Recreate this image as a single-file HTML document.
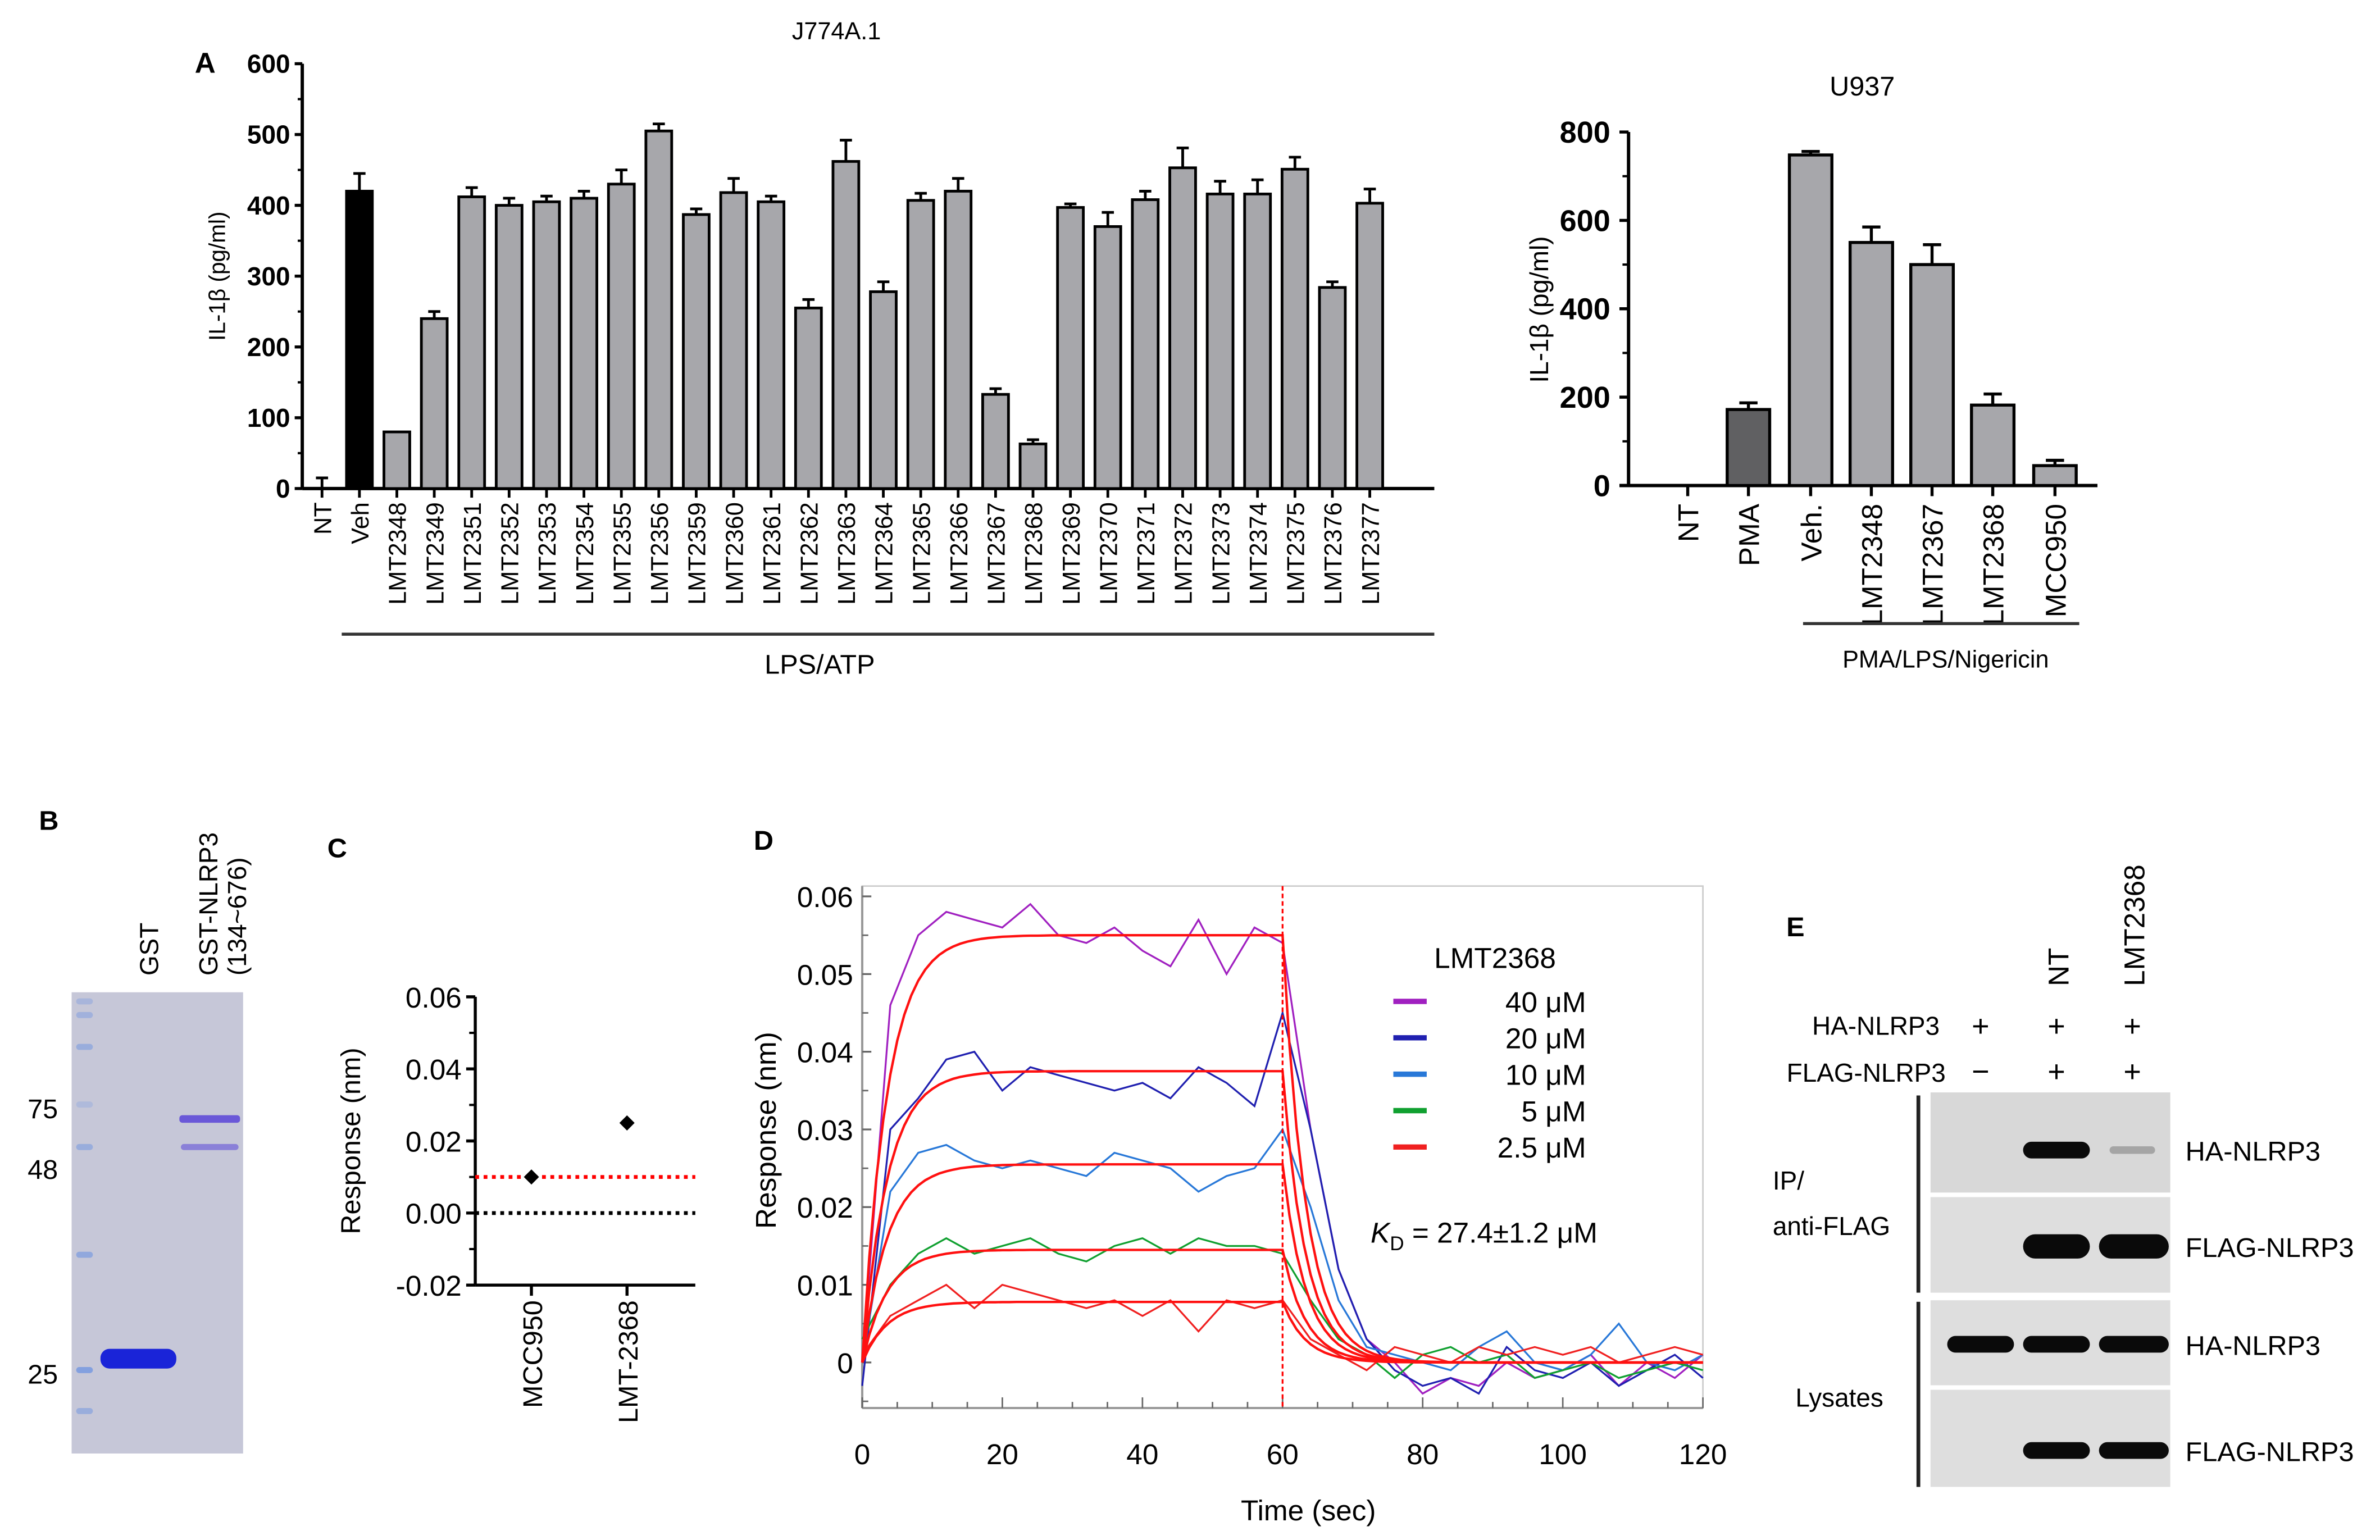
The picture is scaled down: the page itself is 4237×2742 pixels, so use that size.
<!DOCTYPE html>
<html><head><meta charset="utf-8">
<style>
html,body{margin:0;padding:0;background:#fff;}
svg{display:block;font-family:"Liberation Sans",Arial,sans-serif;}
</style></head>
<body>
<svg id="fig" width="4237" height="2742" viewBox="0 0 1568 1015" xmlns="http://www.w3.org/2000/svg">
<g id="gA"></g>
<g id="gU"></g>
<g id="gB"></g>
<g id="gC"></g>
<g id="gD"></g>
<g id="gE"></g>
</svg>
<script>
// ---------- Panel A J774A.1 data ----------
const aCats = ["NT","Veh","LMT2348","LMT2349","LMT2351","LMT2352","LMT2353","LMT2354","LMT2355","LMT2356","LMT2359","LMT2360","LMT2361","LMT2362","LMT2363","LMT2364","LMT2365","LMT2366","LMT2367","LMT2368","LMT2369","LMT2370","LMT2371","LMT2372","LMT2373","LMT2374","LMT2375","LMT2376","LMT2377"];
const aVals = [0,420,80,240,412,400,405,410,430,505,387,418,405,255,462,278,407,420,133,63,397,370,408,453,416,416,451,284,403];
const aErrs = [15,25,0,10,13,10,8,10,20,10,8,20,8,12,30,14,10,18,8,6,5,20,12,28,18,20,17,8,20];
const aTicks = [0,100,200,300,400,500,600];
// ---------- Panel A U937 data ----------
const uCats = ["NT","PMA","Veh.","LMT2348","LMT2367","LMT2368","MCC950"];
const uVals = [0,172,748,550,500,182,45];
const uErrs = [0,15,8,35,45,25,12];
const uTicks = [0,200,400,600,800];
// ---------- Panel C data ----------
const cCats = ["MCC950","LMT-2368"];
const cVals = [0.010,0.025];
const cTicks = [-0.02,0.00,0.02,0.04,0.06];
const cRefRed = 0.01;
const cRefBlack = 0.0;
// ---------- Panel D data ----------
const dTime = [0,4,8,12,16,20,24,28,32,36,40,44,48,52,56,60,64,68,72,76,80,84,88,92,96,100,104,108,112,116,120];
const d40 = [0,0.046,0.055,0.058,0.057,0.056,0.059,0.055,0.054,0.056,0.053,0.051,0.057,0.050,0.056,0.054,0.030,0.012,0.003,0.000,-0.004,-0.002,-0.003,0.000,-0.002,-0.001,0.001,-0.003,0.000,-0.002,0.001];
const d20 = [-0.003,0.030,0.034,0.039,0.040,0.035,0.038,0.037,0.036,0.035,0.036,0.034,0.038,0.036,0.033,0.045,0.030,0.012,0.003,-0.001,-0.003,-0.002,-0.004,0.002,-0.001,-0.002,0.000,-0.003,-0.001,0.001,-0.002];
const d10 = [0,0.022,0.027,0.028,0.026,0.025,0.026,0.025,0.024,0.027,0.026,0.025,0.022,0.024,0.025,0.030,0.020,0.008,0.002,0.001,0.000,-0.001,0.002,0.004,0.000,-0.001,0.001,0.005,0.000,-0.001,0.001];
const d5 = [0.003,0.010,0.014,0.016,0.014,0.015,0.016,0.014,0.013,0.015,0.016,0.014,0.016,0.015,0.015,0.014,0.008,0.003,0.001,-0.002,0.001,0.002,0.000,0.001,-0.002,-0.001,0.000,-0.002,-0.001,0.000,-0.001];
const d25 = [0.001,0.006,0.008,0.010,0.007,0.010,0.009,0.008,0.007,0.008,0.006,0.008,0.004,0.008,0.007,0.008,0.003,0.001,-0.001,0.002,0.001,0.000,0.002,0.001,0.002,0.001,0.002,0.000,0.001,0.002,0.001];
const dPlateaus = [0.055,0.0375,0.0255,0.0145,0.0078];
const dLabels = ["40 μM","20 μM","10 μM","5 μM","2.5 μM"];
const dXTicks = [0,20,40,60,80,100,120];
const dYTicks = [0,0.01,0.02,0.03,0.04,0.05,0.06];

const NS="http://www.w3.org/2000/svg";
function mk(parent,tag,attrs,text){const e=document.createElementNS(NS,tag);for(const k in attrs)e.setAttribute(k,attrs[k]);if(text!==undefined)e.textContent=text;parent.appendChild(e);return e;}

// ===== Panel A left =====
(function(){
const g=document.getElementById('gA');
const x0=199,xEnd=945,yZero=322,yTop=42;
const y=v=>yZero-(v/600)*(yZero-yTop);
const xc=i=>212+i*24.66;
let t;
t=mk(g,'text',{x:135,y:48,'font-size':19,'font-weight':'bold','text-anchor':'middle'},'A');

t=mk(g,'text',{x:551,y:26,'font-size':16,'text-anchor':'middle'},'J774A.1');

t=mk(g,'text',{transform:'translate(148,182) rotate(-90)','font-size':15,'text-anchor':'middle'},'IL-1β (pg/ml)');

let ax=mk(g,'line',{x1:x0,y1:yTop,x2:x0,y2:yZero,stroke:'#000','stroke-width':2.2});

ax=mk(g,'line',{x1:x0,y1:yZero,x2:xEnd,y2:yZero,stroke:'#000','stroke-width':2.2});

aTicks.forEach(v=>{
 const tk=mk(g,'line',{x1:x0-5,y1:y(v),x2:x0,y2:y(v),stroke:'#000','stroke-width':2});
 
 const mt=mk(g,'line',{x1:x0-3,y1:y(v+50),x2:x0,y2:y(v+50),stroke:'#000','stroke-width':1.5});
 if(v===600)mt.remove(); else {}
 const lb=mk(g,'text',{x:x0-8,y:y(v)+6,'font-size':17,'font-weight':'bold','text-anchor':'end'},String(v));
 
});
aCats.forEach((c,i)=>{
 const cx=xc(i),v=aVals[i],w=17;
 if(v>0){
  const r=mk(g,'rect',{x:cx-w/2,y:y(v),width:w,height:yZero-y(v),fill:i===1?'#000':'#a7a7ab',stroke:'#000','stroke-width':1.8});
  
 }
 if(aErrs[i]>0){
  const e=mk(g,'path',{d:`M${cx},${y(v)} V${y(v+aErrs[i])} M${cx-4},${y(v+aErrs[i])} H${cx+4}`,stroke:'#000','stroke-width':1.8,fill:'none'});
  
 }
 const tk=mk(g,'line',{x1:cx,y1:yZero,x2:cx,y2:yZero+6,stroke:'#000','stroke-width':1.8});
 
 const lb=mk(g,'text',{transform:`translate(${cx+6},${yZero+9}) rotate(-90)`,'font-size':16,'text-anchor':'end'},c);
 
});
const br=mk(g,'line',{x1:225,y1:418,x2:945,y2:418,stroke:'#333','stroke-width':2});

t=mk(g,'text',{x:540,y:444,'font-size':18,'text-anchor':'middle'},'LPS/ATP');

})();

// ===== Panel A right U937 =====
(function(){
const g=document.getElementById('gU');
const x0=1073,xEnd=1382,yZero=320,yTop=87;
const y=v=>yZero-(v/800)*(yZero-yTop);
const xs=[1112,1152,1193,1233,1273,1313,1354];
let t=mk(g,'text',{x:1227,y:63,'font-size':18,'text-anchor':'middle'},'U937');

t=mk(g,'text',{transform:'translate(1020,204) rotate(-90)','font-size':17,'text-anchor':'middle'},'IL-1β (pg/ml)');

let ax=mk(g,'line',{x1:x0,y1:yTop,x2:x0,y2:yZero,stroke:'#000','stroke-width':2.2});

ax=mk(g,'line',{x1:x0-6,y1:yZero,x2:xEnd,y2:yZero,stroke:'#000','stroke-width':2.2});

uTicks.forEach(v=>{
 const tk=mk(g,'line',{x1:x0-6,y1:y(v),x2:x0,y2:y(v),stroke:'#000','stroke-width':2});
 
 if(v<800){const mt=mk(g,'line',{x1:x0-4,y1:y(v+100),x2:x0,y2:y(v+100),stroke:'#000','stroke-width':1.5});
 }
 const lb=mk(g,'text',{x:x0-12,y:y(v)+7,'font-size':20,'font-weight':'bold','text-anchor':'end'},String(v));
 
});
uCats.forEach((c,i)=>{
 const cx=xs[i],v=uVals[i],w=28;
 if(v>0){
  const r=mk(g,'rect',{x:cx-w/2,y:y(v),width:w,height:yZero-y(v),fill:i===1?'#606062':'#a7a7ab',stroke:'#000','stroke-width':2});
  
 }
 if(uErrs[i]>0){
  const e=mk(g,'path',{d:`M${cx},${y(v)} V${y(v+uErrs[i])} M${cx-6},${y(v+uErrs[i])} H${cx+6}`,stroke:'#000','stroke-width':2,fill:'none'});
  
 }
 const tk=mk(g,'line',{x1:cx,y1:yZero,x2:cx,y2:yZero+7,stroke:'#000','stroke-width':2});
 
 const lb=mk(g,'text',{transform:`translate(${cx+7},${yZero+12}) rotate(-90)`,'font-size':19,'text-anchor':'end'},c);
 
});
const br=mk(g,'line',{x1:1188,y1:411,x2:1370,y2:411,stroke:'#333','stroke-width':2});

t=mk(g,'text',{x:1282,y:440,'font-size':16,'text-anchor':'middle'},'PMA/LPS/Nigericin');

})();

// ===== Panel B gel =====
(function(){
const g=document.getElementById('gB');
let t=mk(g,'text',{x:32,y:547,'font-size':18,'font-weight':'bold','text-anchor':'middle'},'B');

t=mk(g,'text',{transform:'translate(104,643) rotate(-90)','font-size':17,'text-anchor':'start'},'GST');

t=mk(g,'text',{transform:'translate(143,643) rotate(-90)','font-size':17,'text-anchor':'start'},'GST-NLRP3');

t=mk(g,'text',{transform:'translate(162,643) rotate(-90)','font-size':17,'text-anchor':'start'},'(134~676)');

const r=mk(g,'rect',{x:47,y:654,width:113,height:304,fill:'#c6c7d8'});

[[660,0.4],[669,0.5],[690,0.6],[728,0.3],[756,0.6],[827,0.7],[903,0.9],[930,0.6]].forEach(b=>{
 const l=mk(g,'rect',{x:50,y:b[0]-2,width:11,height:4,rx:2,fill:'#7b9be0','fill-opacity':b[1]});
 
});
let b=mk(g,'rect',{x:66,y:889,width:50,height:13,rx:6,fill:'#1a24d8'});

b=mk(g,'rect',{x:118,y:735,width:40,height:5,rx:2,fill:'#6a58d8'});

b=mk(g,'rect',{x:119,y:754,width:38,height:4,rx:2,fill:'#8a80d8'});

[['75',737],['48',777],['25',912]].forEach(m=>{
 const l=mk(g,'text',{x:28,y:m[1],'font-size':18,'text-anchor':'middle'},m[0]);
 
});
})();

// ===== Panel C =====
(function(){
const g=document.getElementById('gC');
const x0=313,xEnd=458,yb=847,yt=657;
const y=v=>yb-((v+0.02)/0.08)*(yb-yt);
const xs=[350,413];
let t=mk(g,'text',{x:222,y:565,'font-size':18,'font-weight':'bold','text-anchor':'middle'},'C');

t=mk(g,'text',{transform:'translate(237,752) rotate(-90)','font-size':18,'text-anchor':'middle'},'Response (nm)');

let ax=mk(g,'line',{x1:x0,y1:yt,x2:x0,y2:yb,stroke:'#000','stroke-width':2});

ax=mk(g,'line',{x1:x0,y1:yb,x2:xEnd,y2:yb,stroke:'#000','stroke-width':2});

cTicks.forEach(v=>{
 const tk=mk(g,'line',{x1:x0-6,y1:y(v),x2:x0,y2:y(v),stroke:'#000','stroke-width':2});
 
 if(v<0.06){const mt=mk(g,'line',{x1:x0-4,y1:y(v+0.01),x2:x0,y2:y(v+0.01),stroke:'#000','stroke-width':1.5});
 }
 const lb=mk(g,'text',{x:x0-9,y:y(v)+7,'font-size':19,'text-anchor':'end'},v.toFixed(2));
 
});
let l=mk(g,'line',{x1:x0,y1:y(cRefRed),x2:xEnd,y2:y(cRefRed),stroke:'#f00','stroke-width':2.5,'stroke-dasharray':'2.5 3'});

l=mk(g,'line',{x1:x0,y1:y(cRefBlack),x2:xEnd,y2:y(cRefBlack),stroke:'#000','stroke-width':2.5,'stroke-dasharray':'2.5 3'});

cCats.forEach((c,i)=>{
 const cx=xs[i],cy=y(cVals[i]);
 const p=mk(g,'path',{d:`M${cx},${cy-5} L${cx+5},${cy} L${cx},${cy+5} L${cx-5},${cy} Z`,fill:'#000'});
 
 const tk=mk(g,'line',{x1:cx,y1:yb,x2:cx,y2:yb+7,stroke:'#000','stroke-width':2});
 
 const lb=mk(g,'text',{transform:`translate(${cx+7},${yb+10}) rotate(-90)`,'font-size':18,'text-anchor':'end'},c);
 
});
})();

// ===== Panel D =====
(function(){
const g=document.getElementById('gD');
const xL=568,xR=1122,yTop=584,yBot=928;
const x=tt=>xL+tt/120*(xR-xL);
const y=v=>898-v/0.01*51.2;
let t=mk(g,'text',{x:503,y:560,'font-size':18,'font-weight':'bold','text-anchor':'middle'},'D');

const box=mk(g,'rect',{x:xL,y:yTop,width:xR-xL,height:yBot-yTop,fill:'none',stroke:'#ccc','stroke-width':1});

let ax=mk(g,'line',{x1:xL,y1:yTop,x2:xL,y2:yBot,stroke:'#999','stroke-width':1.5});

ax=mk(g,'line',{x1:xL,y1:yBot,x2:xR,y2:yBot,stroke:'#999','stroke-width':1.5});

dYTicks.forEach(v=>{
 const tk=mk(g,'line',{x1:xL,y1:y(v),x2:xL+6,y2:y(v),stroke:'#666','stroke-width':1.2});
 
 const mt=mk(g,'line',{x1:xL,y1:y(v-0.005),x2:xL+4,y2:y(v-0.005),stroke:'#666','stroke-width':1});
 
 const lb=mk(g,'text',{x:xL-6,y:y(v)+7,'font-size':19,'text-anchor':'end'},v===0?'0':v.toFixed(2));
 
});
for(let s=0;s<=120;s+=5){
 const tk=mk(g,'line',{x1:x(s),y1:yBot,x2:x(s),y2:yBot-(s%20===0?7:4),stroke:'#666','stroke-width':1});
 
}
dXTicks.forEach(v=>{
 const lb=mk(g,'text',{x:x(v),y:965,'font-size':19,'text-anchor':'middle'},String(v));
 
});
t=mk(g,'text',{x:862,y:1002,'font-size':19,'text-anchor':'middle'},'Time (sec)');

t=mk(g,'text',{transform:'translate(511,745) rotate(-90)','font-size':19,'text-anchor':'middle'},'Response (nm)');

const series=[d40,d20,d10,d5,d25];
const colors=['#a020c0','#2020b0','#2878d8','#10a030','#f02020'];
series.forEach((s,si)=>{
 const pts=s.map((v,i)=>x(dTime[i]).toFixed(1)+','+y(v).toFixed(1)).join(' ');
 const pl=mk(g,'polyline',{points:pts,fill:'none',stroke:colors[si],'stroke-width':1.2});
 
 
});
dPlateaus.forEach((R,si)=>{
 let d='';
 for(let s=0;s<=120;s+=1){
  const v=s<=60?R*(1-Math.exp(-0.28*s)):R*Math.exp(-0.3*(s-60));
  d+=(s===0?'M':'L')+x(s).toFixed(1)+','+y(v).toFixed(1)+' ';
 }
 const f=mk(g,'path',{d:d,fill:'none',stroke:'#ff1010','stroke-width':1.6});
 
});
const vl=mk(g,'line',{x1:x(60),y1:yTop,x2:x(60),y2:yBot,stroke:'#f00','stroke-width':1.2,'stroke-dasharray':'3 2'});

t=mk(g,'text',{x:985,y:638,'font-size':19,'text-anchor':'middle'},'LMT2368');

dLabels.forEach((lbl,i)=>{
 const ly=660+i*24;
 const ln=mk(g,'line',{x1:918,y1:ly,x2:940,y2:ly,stroke:colors[i],'stroke-width':3.5});
 
 const lt=mk(g,'text',{x:1045,y:ly+7,'font-size':19,'text-anchor':'end'},lbl);
 
});
t=mk(g,'text',{x:903,y:819,'font-size':19});

mk(t,'tspan',{'font-style':'italic'},'K');
mk(t,'tspan',{'font-size':13,dy:5},'D');
mk(t,'tspan',{dy:-5},' = 27.4±1.2 μM');
})();

// ===== Panel E =====
(function(){
const g=document.getElementById('gE');
const lanes=[1305,1355,1405];
let t=mk(g,'text',{x:1183,y:617,'font-size':18,'font-weight':'bold','text-anchor':'middle'},'E');

t=mk(g,'text',{transform:'translate(1363,650) rotate(-90)','font-size':19},'NT');

t=mk(g,'text',{transform:'translate(1413,650) rotate(-90)','font-size':19},'LMT2368');

t=mk(g,'text',{x:1278,y:682,'font-size':17,'text-anchor':'end'},'HA-NLRP3');

t=mk(g,'text',{x:1282,y:713,'font-size':17,'text-anchor':'end'},'FLAG-NLRP3');

['+','+','+'].forEach((s,i)=>{const e=mk(g,'text',{x:lanes[i],y:683,'font-size':20,'text-anchor':'middle'},s);
 });
['−','+','+'].forEach((s,i)=>{const e=mk(g,'text',{x:lanes[i],y:713,'font-size':20,'text-anchor':'middle'},s);
 });
const boxes=[[720,786],[789,852],[857,913],[916,980]];
const bands=[[0,1,0.25],[0,1,1],[1,1,1],[0,1,1]];
const rlab=['HA-NLRP3','FLAG-NLRP3','HA-NLRP3','FLAG-NLRP3'];
boxes.forEach((b,bi)=>{
 const r=mk(g,'rect',{x:1272,y:b[0],width:158,height:b[1]-b[0],fill:bi===0?'#d8d8d8':'#dedede'});
 
 const cy=(b[0]+b[1])/2+(bi===0?5:bi===3?8:1);
 bands[bi].forEach((op,li)=>{
  if(op>0){
   const h=bi===1?16:bi===0&&li===2?5:11;
   const bd=mk(g,'rect',{x:lanes[li]-22,y:cy-h/2,width:li===2?(bi===0?30:46):44,height:h,rx:h/2,fill:'#0a0a0a','fill-opacity':op});
   if(li===2&&bi===0)bd.setAttribute('x',lanes[li]-15);
   
  }
 });
 const rl=mk(g,'text',{x:1440,y:cy+7,'font-size':18},rlab[bi]);
 
});
let l=mk(g,'line',{x1:1264,y1:722,x2:1264,y2:852,stroke:'#222','stroke-width':2.5});

l=mk(g,'line',{x1:1264,y1:858,x2:1264,y2:980,stroke:'#222','stroke-width':2.5});

t=mk(g,'text',{x:1168,y:784,'font-size':17},'IP/');

t=mk(g,'text',{x:1168,y:814,'font-size':17},'anti-FLAG');

t=mk(g,'text',{x:1183,y:927,'font-size':17},'Lysates');

})();
</script>
</body></html>
